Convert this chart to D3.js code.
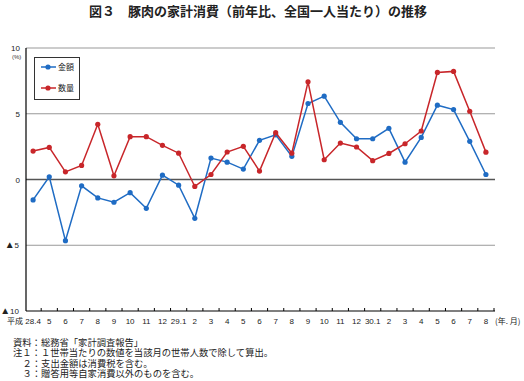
<!DOCTYPE html>
<html>
<head>
<meta charset="utf-8">
<script src="https://cdn.jsdelivr.net/npm/d3@7"></script>
<style>
  body { margin: 0; background: #fff; }
  text { font-family: "Liberation Sans", Arial, sans-serif; }
  .jp { font-family: "Noto Sans CJK JP", sans-serif; }
</style>
</head>
<body>
<script>
const width = 524;
const height = 381;

// months (H28.4 - H30.8)
const months = ["28.4","5","6","7","8","9","10","11","12","29.1","2","3","4","5","6","7","8","9","10","11","12","30.1","2","3","4","5","6","7","8"];
// 金額 (spending, % yoy)
const kingaku = [-1.55,0.2,-4.65,-0.48,-1.4,-1.73,-1.0,-2.19,0.33,-0.43,-2.95,1.63,1.32,0.79,2.98,3.4,1.76,5.78,6.34,4.35,3.1,3.1,3.89,1.32,3.2,5.65,5.32,2.9,0.38];
// 数量 (quantity, % yoy)
const suryo = [2.16,2.44,0.58,1.07,4.2,0.28,3.26,3.26,2.6,2.0,-0.53,0.38,2.09,2.52,0.64,3.56,2.0,7.43,1.5,2.77,2.47,1.43,1.98,2.72,3.69,8.14,8.22,5.19,2.08];
const yTicks = [10, 5, 0, -5, -10];
const notes = [
  "資料：総務省「家計調査報告」",
  "注１：１世帯当たりの数値を当該月の世帯人数で除して算出。",
  "２：支出金額は消費税を含む。",
  "３：贈答用等自家消費以外のものを含む。"
];

const svg = d3.select("body").append("svg")
    .attr("width", width)
    .attr("height", height);

const x = d3.scaleBand()
    .domain(d3.range(months.length))
    .range([25, 494]);

const y = d3.scaleLinear()
    .domain([-10, 10])
    .range([311, 48]);

// title
svg.append("text")
    .attr("class", "jp")
    .attr("x", 258).attr("y", 16)
    .attr("text-anchor", "middle")
    .attr("font-size", 13)
    .attr("font-weight", "bold")
    .attr("fill", "#222")
    .text("図３　豚肉の家計消費（前年比、全国一人当たり）の推移");

svg.append("text")
    .attr("x", 12).attr("y", 59)
    .attr("font-size", 6)
    .attr("fill", "#333")
    .text("(%)");

// grid lines
svg.append("g").selectAll("line")
    .data([10, 5, -5])
    .enter().append("line")
    .attr("x1", 26).attr("x2", 495)
    .attr("y1", d => y(d)).attr("y2", d => y(d))
    .attr("stroke", "#999")
    .attr("stroke-width", 1);

svg.append("line")
    .attr("x1", 26).attr("x2", 495)
    .attr("y1", y(0)).attr("y2", y(0))
    .attr("stroke", "#555")
    .attr("stroke-width", 1.6);

// y labels
const yl = svg.append("g").selectAll("text")
    .data(yTicks)
    .enter().append("text")
    .attr("x", 20)
    .attr("y", d => y(d) + 3)
    .attr("text-anchor", "end")
    .attr("font-size", 8)
    .attr("fill", "#222");
yl.filter(d => d < 0).append("tspan")
    .attr("font-size", 10)
    .attr("dx", -1)
    .text("▲");
yl.append("tspan")
    .text(d => Math.abs(d));

// axes
svg.append("line")
    .attr("x1", 26).attr("x2", 26)
    .attr("y1", y(10)).attr("y2", y(-10))
    .attr("stroke", "#000").attr("stroke-width", 1.2);

const xAxis = svg.append("g")
    .attr("transform", "translate(0," + y(-10) + ")");
xAxis.append("line")
    .attr("x1", 26).attr("x2", 495)
    .attr("stroke", "#000").attr("stroke-width", 1.2);
xAxis.selectAll(".tk")
    .data(d3.range(1, months.length + 1))
    .enter().append("line")
    .attr("class", "tk")
    .attr("x1", d => x.range()[0] + d * x.step())
    .attr("x2", d => x.range()[0] + d * x.step())
    .attr("y1", 0).attr("y2", -3)
    .attr("stroke", "#000");
xAxis.selectAll("text")
    .data(months)
    .enter().append("text")
    .attr("x", (d, i) => x(i) + x.bandwidth() / 2)
    .attr("y", 13)
    .attr("text-anchor", "middle")
    .attr("font-size", 8)
    .attr("fill", "#222")
    .text(d => d);

svg.append("text")
    .attr("class", "jp")
    .attr("x", 7).attr("y", y(-10) + 13)
    .attr("font-size", 8)
    .attr("fill", "#222")
    .text("平成");

svg.append("text")
    .attr("class", "jp")
    .attr("x", 495).attr("y", y(-10) + 13)
    .attr("font-size", 8)
    .attr("fill", "#222")
    .text("(年. 月)");

// series
const series = [
  { name: "金額", values: kingaku, color: "#1f6cc4" },
  { name: "数量", values: suryo, color: "#c8262a" }
];

const line = d3.line()
    .x((d, i) => x(i) + x.bandwidth() / 2)
    .y(d => y(d));

series.forEach(s => {
  svg.append("path")
      .datum(s.values)
      .attr("fill", "none")
      .attr("stroke", s.color)
      .attr("stroke-width", 1.5)
      .attr("d", line);
  svg.append("g").selectAll("circle")
      .data(s.values)
      .enter().append("circle")
      .attr("cx", (d, i) => x(i) + x.bandwidth() / 2)
      .attr("cy", d => y(d))
      .attr("r", 2.6)
      .attr("fill", s.color);
});

// legend
const legend = svg.append("g");
legend.append("rect")
    .attr("x", 34.5).attr("y", 57.5)
    .attr("width", 45).attr("height", 42)
    .attr("fill", "#fff")
    .attr("stroke", "#333");
series.forEach((s, i) => {
  const ly = 67 + i * 21;
  legend.append("line")
      .attr("x1", 41).attr("x2", 56)
      .attr("y1", ly).attr("y2", ly)
      .attr("stroke", s.color).attr("stroke-width", 1.5);
  legend.append("circle")
      .attr("cx", 48).attr("cy", ly).attr("r", 2.6)
      .attr("fill", s.color);
  legend.append("text")
      .attr("class", "jp")
      .attr("x", 58).attr("y", ly + 3)
      .attr("font-size", 8)
      .attr("fill", "#222")
      .text(s.name);
});

// notes
svg.append("g").selectAll("text")
    .data(notes)
    .enter().append("text")
    .attr("class", "jp")
    .attr("x", (d, i) => i >= 2 ? 22.5 : 13)
    .attr("y", (d, i) => 346 + i * 10.4)
    .attr("font-size", 9.3)
    .attr("fill", "#222")
    .text(d => d);
</script>
</body>
</html>
